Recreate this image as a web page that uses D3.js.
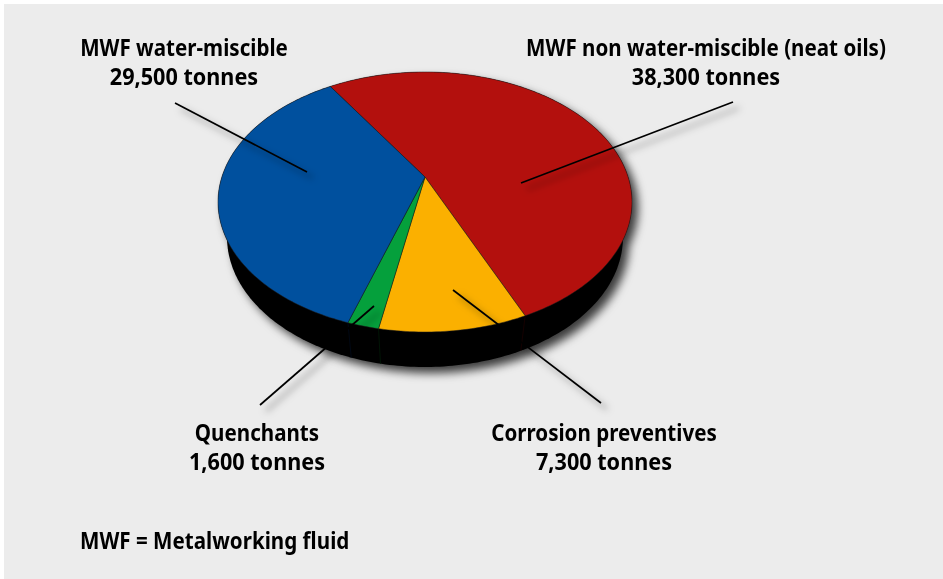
<!DOCTYPE html>
<html><head><meta charset="utf-8">
<script src="https://cdn.jsdelivr.net/npm/d3@7/dist/d3.min.js"></script>
<style>html,body{margin:0;padding:0;background:#fff}svg{display:block}
text{font-family:"Noto Sans",sans-serif;font-weight:700;fill:#000}</style></head>
<body><svg id="c" width="943" height="579"></svg>
<script>
// Data, clockwise from the red slice
const categories = ["MWF non water-miscible (neat oils)", "Corrosion preventives", "Quenchants", "MWF water-miscible"];
const tonnes = [38300, 7300, 1600, 29500];
const colors = ["#b3100d", "#fbb000", "#05a03c", "#00509e"];
const seamColors = ["#1a0000", "#001a06", "#000a1a", "#1a0000"];
const footnote = "MWF = Metalworking fluid";

// View parameters
const W = 943, H = 579;
const cx = 425, apexY = 177, topY = 72, botY = 332, halfW = 207;
const depth = 35, baseScale = 198 / 207;
const rotation = -32.8 * Math.PI / 180;
const skewAmp = 5 * Math.PI / 180, skewPhase = 205 * Math.PI / 180;

// Perspective map of the unit disc to screen
const k = (topY + botY - 2 * apexY) / (botY - topY);
const p = topY + topY * k - apexY;
const q = halfW * Math.sqrt(1 - k * k);
function warp(a) { return a + skewAmp * (Math.cos(a - rotation - skewPhase) - Math.cos(skewPhase)); }
function top3(a, r) {
  const t = warp(a), X = r * Math.sin(t), Y = r * Math.cos(t), w = 1 + k * Y;
  return [cx + q * X / w, (apexY + p * Y) / w];
}
function bottom3(a, r) {
  const [x, y] = top3(a, r);
  return [cx + (x - cx) * baseScale, y + depth];
}

const svg = d3.select("#c");
const defs = svg.append("defs");
function shadow(id, dx, dy, sd, op) {
  const f = defs.append("filter").attr("id", id).attr("filterUnits", "userSpaceOnUse")
    .attr("x", 0).attr("y", 0).attr("width", W).attr("height", H);
  f.append("feDropShadow").attr("dx", dx).attr("dy", dy).attr("stdDeviation", sd).attr("flood-color", "#000").attr("flood-opacity", op);
}
shadow("pieShadow", 6, 6, 5, 0.75);
shadow("lineShadow", 6, 6, 3.5, 0.5);
const soft = defs.append("filter").attr("id", "soft");
soft.append("feGaussianBlur").attr("stdDeviation", 0.35);

svg.append("rect").attr("width", W).attr("height", H).attr("fill", "#fff");
svg.append("rect").attr("x", 4).attr("y", 4).attr("width", W - 4).attr("height", H - 4).attr("fill", "#ececec");

const pie = d3.pie().sort(null).startAngle(rotation).endAngle(rotation + 2 * Math.PI);
const arcs = pie(tonnes);
const line = d3.line();
const step = Math.PI / 180;
const rim = (a0, a1, fn) => d3.range(a0, a1, step).concat([a1]).map(a => fn(a, 1));

// Body: top rim joined to the lower rim
const gBody = svg.append("g").attr("filter", "url(#pieShadow)");
const full = rim(0, 2 * Math.PI, top3);
const wall = rim(0, 2 * Math.PI, bottom3);
gBody.append("path").attr("d", line(full) + "Z").attr("fill", "#000");
gBody.append("path").attr("d", line(wall) + "Z").attr("fill", "#000");
const xOf = v => v[0];
gBody.append("path").attr("fill", "#000")
  .attr("d", line([full[d3.minIndex(full, xOf)], wall[d3.minIndex(wall, xOf)], wall[d3.maxIndex(wall, xOf)], full[d3.maxIndex(full, xOf)]]) + "Z");

// Seams on the wall
svg.append("g").selectAll("line").data(arcs.slice(0, 3)).join("line")
  .attr("x1", d => top3(d.endAngle, 1)[0]).attr("y1", d => top3(d.endAngle, 1)[1])
  .attr("x2", d => bottom3(d.endAngle, 1)[0]).attr("y2", d => bottom3(d.endAngle, 1)[1])
  .attr("stroke", (d, i) => seamColors[i]).attr("stroke-width", 0.8);

// Top slices
svg.append("g").selectAll("path").data(arcs).join("path")
  .attr("d", d => line([[cx, apexY]].concat(rim(d.startAngle, d.endAngle, top3))) + "Z")
  .attr("fill", (d, i) => colors[i])
  .attr("stroke", "#1c1c1c").attr("stroke-width", 0.5).attr("stroke-linejoin", "round");

// Leader lines
const leaders = [
  [[733, 102], [521, 183]],
  [[601, 403], [453, 290]],
  [[260, 405], [374, 306]],
  [[175, 103], [307, 172]]
];
svg.append("g").selectAll("path").data(leaders).join("path")
  .attr("d", d => line(d)).attr("fill", "none").attr("stroke", "#000").attr("stroke-width", 1.7)
  .attr("filter", "url(#lineShadow)");

// Labels: glyphs narrowed to the reference's condensed proportions
const labelPos = [
  {x: 706, y: 56}, {x: 604, y: 441}, {x: 257, y: 441}, {x: 184, y: 56}
];
const fs = 23, narrowName = 0.895, narrowValue = 0.94;
const fmt = d3.format(",");
const gText = svg.append("g").attr("filter", "url(#soft)");
function put(str, x, y, anchor, narrow) {
  const t = gText.append("text").attr("x", x).attr("y", y).attr("text-anchor", anchor).attr("font-size", fs).text(str);
  t.attr("textLength", t.node().getComputedTextLength() * narrow).attr("lengthAdjust", "spacingAndGlyphs");
}
categories.forEach((c, i) => {
  put(c, labelPos[i].x, labelPos[i].y, "middle", narrowName);
  put(fmt(tonnes[i]) + " tonnes", labelPos[i].x, labelPos[i].y + 29, "middle", narrowValue);
});
put(footnote, 80, 549, "start", narrowName);
</script></body></html>
